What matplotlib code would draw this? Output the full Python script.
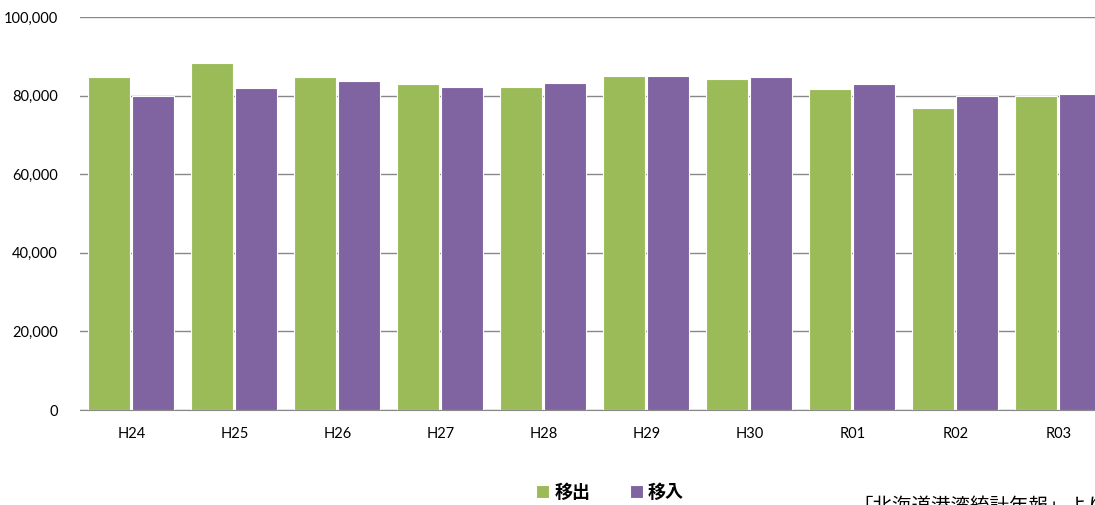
import matplotlib.pyplot as plt
import numpy as np

plt.rcParams['font.family'] = ['Noto Sans CJK JP', 'DejaVu Sans']

years = ['H24', 'H25', 'H26', 'H27', 'H28', 'H29', 'H30', 'R01', 'R02', 'R03']
outbound = [84700, 88300, 84700, 83000, 82200, 85000, 84200, 81700, 76800, 80000]
inbound = [80000, 81900, 83700, 82200, 83200, 85000, 84700, 82900, 79900, 80400]

fig = plt.figure(figsize=(10.95, 5.05), dpi=100)
ax = fig.add_axes([80 / 1095, 95 / 505, 1030 / 1095, 393 / 505])

x = np.arange(len(years))
w = 0.41
ax.bar(x - w / 2 - 0.01, outbound, w, color='#9BBB59', edgecolor='white', linewidth=0.8, label='移出', zorder=3)
ax.bar(x + w / 2, inbound, w, color='#8064A2', edgecolor='white', linewidth=0.8, label='移入', zorder=3)

ax.set_xlim(-0.5, len(years) - 0.5)
ax.set_ylim(0, 100000)
ax.set_yticks(range(0, 100001, 20000))
ax.set_yticklabels([f'{v:,}' for v in range(0, 100001, 20000)], fontsize=10.5, family='Lato')
ax.set_xticks(x)
ax.set_xticklabels(years, fontsize=10.5, family='Lato')
ax.tick_params(axis='y', length=0, pad=16)
ax.tick_params(axis='x', length=0, pad=12)
ax.yaxis.grid(True, color='#888888', linewidth=1, zorder=0)
for s in ['top', 'right', 'left']:
    ax.spines[s].set_visible(False)
ax.spines['bottom'].set_color('#888888')

ax.legend(loc='center', bbox_to_anchor=(610 / 1095, 13 / 505), bbox_transform=fig.transFigure,
          ncol=2, frameon=False, prop={'size': 13, 'weight': 'bold'}, handlelength=0.7, handleheight=0.7,
          columnspacing=2.2, handletextpad=0.3)

fig.text(853 / 1095, 9 / 505, '「北海道港湾統計年報」より', fontsize=14, va='top', ha='left')

fig.savefig('out.png', dpi=100)
